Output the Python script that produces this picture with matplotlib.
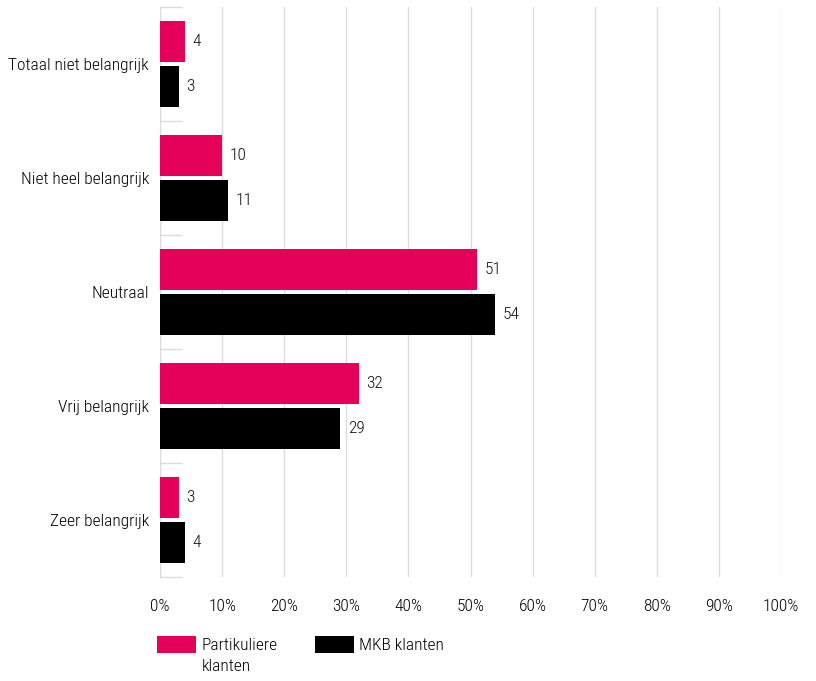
import numpy as np
import matplotlib
matplotlib.use("Agg")
import matplotlib.pyplot as plt
from matplotlib.patches import Patch

categories = ["Totaal niet belangrijk", "Niet heel belangrijk", "Neutraal",
              "Vrij belangrijk", "Zeer belangrijk"]
particulier = [4, 10, 51, 32, 3]
mkb = [3, 11, 54, 29, 4]
series_names = ["Partikuliere", "MKB klanten"]
xticks = np.arange(0, 101, 10)

pink = "#E5005A"
black = "#000000"
fs = 12.5

plt.rcParams["font.family"] = ["Roboto Condensed", "DejaVu Sans"]
plt.rcParams["font.weight"] = "light"
plt.rcParams["font.size"] = fs

fig = plt.figure(figsize=(8.16, 6.81), dpi=100)
ax = fig.add_axes([160 / 816, 1 - 577 / 681, (781 - 160) / 816, 570 / 681])

y = np.arange(len(categories))
h = 0.36
gap = 0.035
b1 = ax.barh(y - (h + gap) / 2, particulier, height=h, color=pink, zorder=3)
b2 = ax.barh(y + (h + gap) / 2, mkb, height=h, color=black, zorder=3)

for bars, vals in ((b1, particulier), (b2, mkb)):
    for bar, v in zip(bars, vals):
        ax.annotate(str(v), (bar.get_width(), bar.get_y() + bar.get_height() / 2),
                    xytext=(5.5, 0), textcoords="offset points",
                    va="center", ha="left", fontsize=fs, color="#111111")

ax.set_ylim(len(categories) - 0.5, -0.5)
ax.set_xlim(0, 100)
ax.set_xticks(xticks)
ax.set_xticklabels([f"{t}%" for t in xticks])
ax.set_yticks(y)
ax.set_yticklabels(categories)
ax.set_yticks(np.arange(-0.5, len(categories)), minor=True)

ax.grid(axis="x", color="#dcdcdc", linewidth=1, zorder=0)
for s in ["top", "right", "bottom"]:
    ax.spines[s].set_visible(False)
ax.spines["left"].set_color("#dcdcdc")
ax.tick_params(axis="x", length=0, pad=16, labelsize=fs, colors="#000000")
ax.tick_params(axis="y", which="major", length=0, pad=8, labelsize=fs, colors="#000000")
ax.tick_params(axis="y", which="minor", length=16, direction="in", color="#dcdcdc", width=1)

# legend; second line of the first label is placed underneath by hand
handles = [Patch(facecolor=pink, label=series_names[0]),
           Patch(facecolor=black, label=series_names[1])]
leg = fig.legend(handles=handles, loc="upper left", bbox_to_anchor=(157 / 816, 1 - 636 / 681),
                 ncol=2, frameon=False, handlelength=2.25, handleheight=1.1,
                 columnspacing=2.15, handletextpad=0.3, fontsize=fs,
                 borderaxespad=0, borderpad=0)
fig.canvas.draw()
t0 = leg.get_texts()[0]
bb = t0.get_window_extent().transformed(fig.transFigure.inverted())
fig.text(bb.x0, bb.y0 - 0.008, "klanten", ha="left", va="top", fontsize=fs, color="#000000")

fig.savefig("out.png", dpi=100)
